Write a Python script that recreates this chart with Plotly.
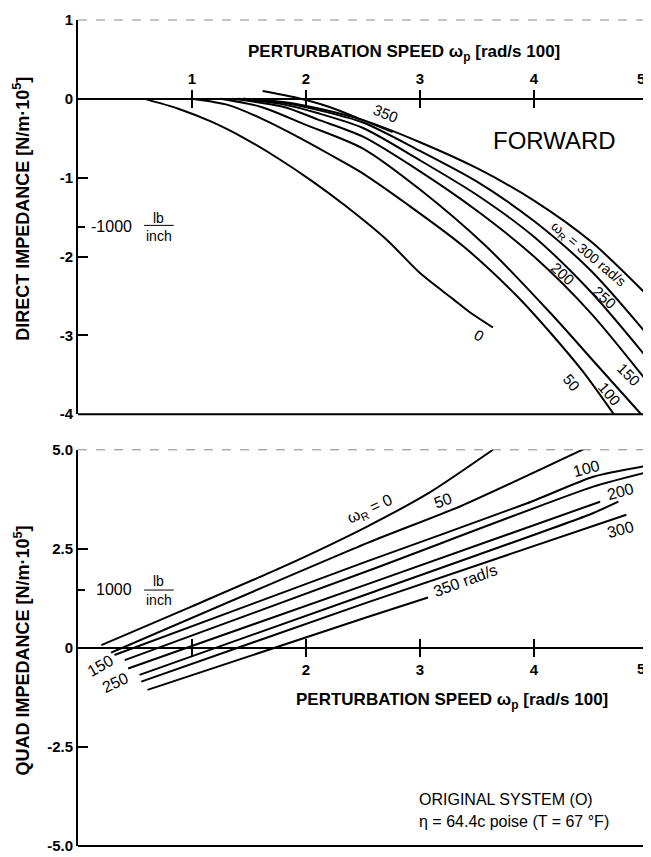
import plotly.graph_objects as go

# ---------------- DATA ----------------
# Top panel: DIRECT IMPEDANCE (forward) vs perturbation speed (rad/s /100), per rotating speed wR
direct_0_x = [0.585, 0.88, 1.17, 1.46, 1.75, 2.05, 2.34, 2.71, 3.0, 3.29, 3.44, 3.64]
direct_0_y = [0.0, -0.125, -0.29, -0.5, -0.75, -1.04, -1.35, -1.79, -2.21, -2.54, -2.71, -2.9]
direct_50_x = [1.0, 1.32, 1.61, 1.90, 2.19, 2.47, 2.9, 3.38, 3.85, 4.14, 4.43, 4.70]
direct_50_y = [0.0, -0.08, -0.25, -0.46, -0.69, -0.92, -1.35, -1.87, -2.5, -2.96, -3.46, -4.0]
direct_100_x = [1.25, 1.6, 2.0, 2.5, 3.0, 3.58, 4.14, 4.58, 4.94]
direct_100_y = [0.0, -0.1, -0.33, -0.63, -1.15, -1.87, -2.71, -3.42, -4.0]
direct_150_x = [1.35, 1.8, 2.1, 2.5, 3.0, 3.5, 4.0, 4.5, 5.0]
direct_150_y = [0.0, -0.1, -0.26, -0.48, -0.92, -1.42, -2.0, -2.72, -3.6]
direct_200_x = [1.4, 1.8, 2.1, 2.5, 3.0, 3.5, 4.0, 4.5, 5.0]
direct_200_y = [0.0, -0.07, -0.18, -0.37, -0.78, -1.22, -1.75, -2.45, -3.3]
direct_250_x = [1.45, 1.8, 2.1, 2.5, 3.0, 3.5, 4.0, 4.5, 5.0]
direct_250_y = [0.0, -0.05, -0.14, -0.3, -0.66, -1.05, -1.55, -2.18, -3.0]
direct_300_x = [1.45, 1.8, 2.1, 2.5, 3.0, 3.5, 4.0, 4.5, 5.0]
direct_300_y = [0.0, -0.04, -0.12, -0.27, -0.55, -0.88, -1.29, -1.81, -2.5]
direct_350_x = [1.62, 1.9, 2.2, 2.5, 2.76]
direct_350_y = [0.1, 0.02, -0.1, -0.27, -0.42]

# Bottom panel: QUAD IMPEDANCE vs perturbation speed
quad_0_x = [0.205, 1.0, 1.8, 2.54, 3.1, 3.64]
quad_0_y = [0.07, 1.05, 2.05, 3.07, 3.95, 5.0]
quad_50_x = [0.29, 2.54, 3.35, 4.46]
quad_50_y = [-0.12, 2.65, 3.57, 5.05]
quad_100_x = [0.32, 2.54, 3.94, 4.52, 4.96]
quad_100_y = [-0.18, 2.19, 3.65, 4.32, 4.58]
quad_150_x = [0.41, 2.54, 4.52, 5.0]
quad_150_y = [-0.31, 1.94, 4.07, 4.44]
quad_200_x = [0.44, 2.54, 4.58]
quad_200_y = [-0.52, 1.61, 3.69]
quad_250_x = [0.54, 2.54, 4.5, 4.74]
quad_250_y = [-0.68, 1.36, 3.38, 3.69]
quad_300_x = [0.555, 2.54, 4.81]
quad_300_y = [-0.85, 1.15, 3.36]
quad_350_x = [0.61, 2.54, 3.07]
quad_350_y = [-1.06, 0.78, 1.27]

x_tick_vals = [1, 2, 3, 4, 5]
top_x_tick_text = ["1", "2", "3", "4", ""]
bottom_x_tick_text = ["", "2", "3", "4", ""]
last_x_tick_label = "5"
top_y_tick_vals = [1, 0, -1, -2, -3, -4]
top_y_tick_text = ["1", "0", "-1", "-2", "-3", "-4"]
bottom_y_tick_vals = [5, 2.5, 0, -2.5, -5]
bottom_y_tick_text = ["5.0", "2.5", "0", "-2.5", "-5.0"]
top_stiffness_mark = -1.62     # -1000 lb/inch
bottom_stiffness_mark = 1.47   # 1000 lb/inch

# ---------------- FIGURE ----------------
# The page body has an 8px margin, so the figure is 8px smaller and offset.
OFF = 8
W, H = 651 - OFF, 857 - OFF
ML, MR, MT, MB = 78 - OFF, 3, 12 - OFF, 9
plot_h = H - MT - MB
bottom_px = 848  # page pixel of plot bottom
top_dom = [(bottom_px - 411) / plot_h, 1.0]
bot_dom = [0.0, (bottom_px - 447) / plot_h]
top_range = [-4, 1]
bot_range = [-5, 5]
top_zero = top_dom[0] + (0 - top_range[0]) / (top_range[1] - top_range[0]) * (top_dom[1] - top_dom[0])
bot_zero = bot_dom[0] + (0 - bot_range[0]) / (bot_range[1] - bot_range[0]) * (bot_dom[1] - bot_dom[0])

FONT = "Liberation Sans, Arial, sans-serif"

fig = go.Figure()
top_series = [(direct_0_x, direct_0_y), (direct_50_x, direct_50_y), (direct_100_x, direct_100_y),
              (direct_150_x, direct_150_y), (direct_200_x, direct_200_y), (direct_250_x, direct_250_y),
              (direct_300_x, direct_300_y), (direct_350_x, direct_350_y)]
for xs, ys in top_series:
    fig.add_trace(go.Scatter(x=xs, y=ys, mode="lines", line=dict(color="black", width=2, shape="spline", smoothing=0.8),
                             xaxis="x", yaxis="y", showlegend=False, hoverinfo="skip"))
bot_series = [(quad_0_x, quad_0_y), (quad_50_x, quad_50_y), (quad_100_x, quad_100_y), (quad_150_x, quad_150_y),
              (quad_200_x, quad_200_y), (quad_250_x, quad_250_y), (quad_300_x, quad_300_y), (quad_350_x, quad_350_y)]
for xs, ys in bot_series:
    fig.add_trace(go.Scatter(x=xs, y=ys, mode="lines", line=dict(color="black", width=2, shape="spline", smoothing=0.6),
                             xaxis="x2", yaxis="y2", showlegend=False, hoverinfo="skip"))

tickfont_bold = dict(family=FONT, size=15, color="black", weight="bold")
xtickfont = dict(family=FONT, size=15, color="black", weight="bold")

common_x = dict(range=[0, 5], showgrid=False, zeroline=False, showline=True, linecolor="black", linewidth=2,
                tickvals=x_tick_vals, ticklen=8, tickwidth=1.5, tickcolor="black", ticks="outside",
                anchor="free", tickfont=xtickfont)
fig.update_layout(
    width=W, height=H,
    margin=dict(l=ML, r=MR, t=MT, b=MB),
    paper_bgcolor="white", plot_bgcolor="white",
    xaxis=dict(**common_x, domain=[0, 1], position=top_zero, side="top", ticktext=top_x_tick_text),
    xaxis3=dict(**common_x, overlaying="x", position=top_zero, side="bottom", showticklabels=False),
    xaxis2=dict(**common_x, domain=[0, 1], position=bot_zero, side="bottom", ticktext=bottom_x_tick_text),
    xaxis4=dict(**common_x, overlaying="x2", position=bot_zero, side="top", showticklabels=False),
    yaxis=dict(domain=top_dom, range=top_range, anchor="x", showgrid=False, zeroline=False, showline=True,
               linecolor="black", linewidth=2, ticks="inside", ticklen=10, tickwidth=1.5, tickcolor="black",
               tickvals=top_y_tick_vals, ticktext=top_y_tick_text, tickfont=tickfont_bold,
               minor=dict(tickvals=[top_stiffness_mark], ticks="inside", ticklen=7, tickcolor="black", tickwidth=1.5)),
    yaxis2=dict(domain=bot_dom, range=bot_range, anchor="x2", showgrid=False, zeroline=False, showline=True,
                linecolor="black", linewidth=2, ticks="inside", ticklen=10, tickwidth=1.5, tickcolor="black",
                tickvals=bottom_y_tick_vals, ticktext=bottom_y_tick_text, tickfont=tickfont_bold,
                minor=dict(tickvals=[bottom_stiffness_mark], ticks="inside", ticklen=7, tickcolor="black", tickwidth=1.5)),
)
# placeholder traces so overlay axes render
fig.add_trace(go.Scatter(x=[None], y=[None], xaxis="x3", yaxis="y", showlegend=False))
fig.add_trace(go.Scatter(x=[None], y=[None], xaxis="x4", yaxis="y2", showlegend=False))

shapes = [
    dict(type="line", xref="x domain", yref="y domain", x0=0, x1=1, y0=0, y1=0, line=dict(color="black", width=2)),
    dict(type="line", xref="x domain", yref="y domain", x0=0, x1=1, y0=1, y1=1, line=dict(color="#888", width=1, dash="dash")),
    dict(type="line", xref="x domain", yref="y domain", x0=1, x1=1, y0=0, y1=1, line=dict(color="#999", width=1, dash="dash")),
    dict(type="line", xref="x2 domain", yref="y2 domain", x0=0, x1=1, y0=0, y1=0, line=dict(color="black", width=2)),
    dict(type="line", xref="x2 domain", yref="y2 domain", x0=0, x1=1, y0=1, y1=1, line=dict(color="#888", width=1, dash="dash")),
    # fraction bars of the lb/inch labels
    dict(type="line", xref="x", yref="y", x0=0.58, x1=0.84, y0=-1.605, y1=-1.605, line=dict(color="black", width=1)),
    dict(type="line", xref="x2", yref="y2", x0=0.58, x1=0.84, y0=1.46, y1=1.46, line=dict(color="black", width=1)),
]
fig.update_layout(shapes=shapes)

def ann(text, x, y, xr, yr, size=15, angle=0, bold=False, xanchor="center", family=FONT):
    f = dict(family=family, size=size, color="black")
    if bold:
        f["weight"] = "bold"
    fig.add_annotation(text=text, x=x, y=y, xref=xr, yref=yr, showarrow=False, textangle=angle,
                       font=f, xanchor=xanchor, yanchor="middle")

def py_to_paper(py):
    return (bottom_px - py) / plot_h

# axis titles
ann("DIRECT IMPEDANCE [N/m·10<sup>5</sup>]", -0.098, py_to_paper(203), "paper", "paper", size=18, angle=-90, bold=True)
ann("QUAD IMPEDANCE [N/m·10<sup>5</sup>]", -0.098, py_to_paper(650), "paper", "paper", size=18, angle=-90, bold=True)
ann("PERTURBATION SPEED ω<sub>p</sub> [rad/s 100]", 2.86, 0.58, "x", "y", size=17, bold=True)
ann("PERTURBATION SPEED ω<sub>p</sub> [rad/s 100]", 3.28, -1.33, "x2", "y2", size=17, bold=True)
# last tick label at the right edge
fig.add_annotation(text=last_x_tick_label, x=4.995, y=0, xref="x", yref="y", showarrow=False, xanchor="right",
                   yanchor="bottom", yshift=10, font=xtickfont)
fig.add_annotation(text=last_x_tick_label, x=4.995, y=0, xref="x2", yref="y2", showarrow=False, xanchor="right",
                   yanchor="top", yshift=-10, font=xtickfont)

# top panel labels
ann("FORWARD", 4.18, -0.53, "x", "y", size=24)
ann("350", 2.7, -0.19, "x", "y", size=15, angle=22)
ann("ω<sub>R</sub> = 300 rad/s", 4.47, -1.97, "x", "y", size=14, angle=40)
ann("200", 4.25, -2.22, "x", "y", size=15, angle=42)
ann("250", 4.62, -2.52, "x", "y", size=15, angle=42)
ann("150", 4.83, -3.5, "x", "y", size=15, angle=45)
ann("100", 4.66, -3.74, "x", "y", size=15, angle=50)
ann("50", 4.33, -3.6, "x", "y", size=15, angle=50)
ann("0", 3.52, -3.0, "x", "y", size=15, angle=30)
ann("-1000", 0.29, -1.62, "x", "y", size=16)
ann("lb", 0.71, -1.51, "x", "y", size=14)
ann("inch", 0.71, -1.74, "x", "y", size=14)

# bottom panel labels
ann("ω<sub>R</sub> = 0", 2.56, 3.5, "x2", "y2", size=16, angle=-25)
ann("50", 3.2, 3.72, "x2", "y2", size=16, angle=-20)
ann("100", 4.46, 4.52, "x2", "y2", size=16, angle=-15)
ann("200", 4.76, 3.95, "x2", "y2", size=16, angle=-15)
ann("300", 4.76, 3.0, "x2", "y2", size=16, angle=-15)
ann("350 rad/s", 3.4, 1.7, "x2", "y2", size=16, angle=-20)
ann("150", 0.2, -0.45, "x2", "y2", size=16, angle=-30)
ann("250", 0.33, -0.88, "x2", "y2", size=16, angle=-25)
ann("1000", 0.32, 1.48, "x2", "y2", size=16)
ann("lb", 0.71, 1.68, "x2", "y2", size=14)
ann("inch", 0.71, 1.22, "x2", "y2", size=14)
ann("ORIGINAL SYSTEM (O)", 2.97, -3.83, "x2", "y2", size=16, xanchor="left")
ann("η = 64.4c poise (T = 67 °F)", 2.97, -4.37, "x2", "y2", size=16, xanchor="left")

fig.write_html("out.html")
